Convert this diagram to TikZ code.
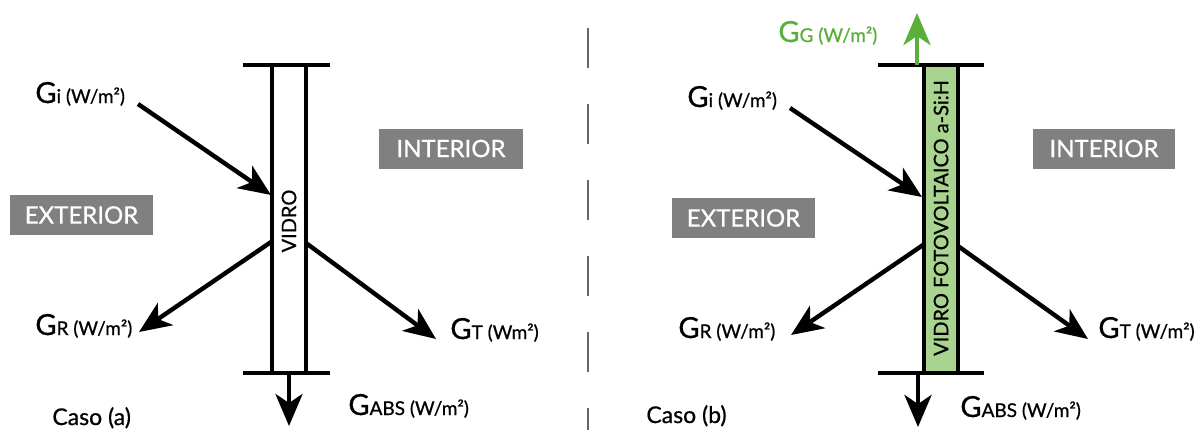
\documentclass[tikz,border=0pt]{standalone}
\usepackage{fontspec}
\setmainfont{Lato}[FakeBold=0.7]
\usetikzlibrary{arrows.meta}
\definecolor{boxgray}{HTML}{808080}
\definecolor{pvgreen}{HTML}{A9D48F}
\definecolor{ggreen}{HTML}{5AAE3A}
\definecolor{dashgray}{HTML}{666666}
\newcommand\glab[2]{{\fontsize{14.5}{15}\selectfont #1}{\fontsize{9.5}{10}\selectfont #2}}
\tikzset{
  arr/.style={line width=2.2pt,-{Stealth[length=16pt,width=13.5pt,inset=4.5pt]}},
  wall/.style={line width=2.1pt},
  zone/.style={fill=boxgray,text=white,minimum width=72pt,minimum height=20pt,inner sep=0pt,font=\fontsize{12}{12}\selectfont},
  lab/.style={anchor=base west,inner sep=0pt},
  caso/.style={anchor=base west,inner sep=0pt,font=\fontsize{11.5}{12}\selectfont},
  vtext/.style={rotate=90,inner sep=0pt,font=\fontsize{10}{10}\selectfont}
}
\begin{document}
\begin{tikzpicture}[x=0.5pt,y=-0.5pt]
\useasboundingbox (0,0) rectangle (1200,430);
% ---------- Caso (a)
\draw[wall] (243,65) -- (330,65);
\draw[wall] (243,373) -- (330,373);
\draw[wall] (272,65) -- (272,373);
\draw[wall] (306,65) -- (306,373);
\node[vtext] (vidroa) at (289,221) {VIDRO};
\coordinate (gia) at (138,104);
\coordinate (gie) at (271,195);
\coordinate (gra) at (271,242);
\coordinate (grt) at (139,332);
\coordinate (gta) at (306,243);
\coordinate (gtt) at (436,339);
\coordinate (gaa) at (289,373);
\coordinate (gat) at (289,426);
\draw[arr] (gia) -- (gie);
\draw[arr] (gra) -- (grt);
\draw[arr] (gta) -- (gtt);
\draw[arr] (gaa) -- (gat);
\node[lab] (lgia) at (35,103) {\glab{G}{i (W/m²)}};
\node[lab] (lgra) at (35,335) {\glab{G}{R (W/m²)}};
\node[lab] (lgta) at (450,339) {\glab{G}{T (Wm²)}};
\node[lab] (lgaa) at (348,415) {\glab{G}{ABS (W/m²)}};
\node[zone,minimum width=71.5pt] (exta) at (81.5,215) {EXTERIOR};
\node[zone] (inta) at (451,148.5) {INTERIOR};
\node[caso] (casoa) at (52,425) {Caso (a)};
% ---------- divider
\draw[dashgray,line width=1.3pt,dash pattern=on 20 off 18] (588,28) -- (588,430);
% ---------- Caso (b)
\fill[pvgreen] (924,65) rectangle (958,373);
\draw[wall] (878,65) -- (984,65);
\draw[wall] (878,373) -- (984,373);
\draw[wall] (924,65) -- (924,373);
\draw[wall] (958,65) -- (958,373);
\node[vtext] (vidrob) at (941,218) {VIDRO FOTOVOLTAICO a-Si:H};
\coordinate (gib) at (790,108);
\coordinate (gibe) at (922,197);
\coordinate (grb) at (923,245);
\coordinate (grbt) at (791,335);
\coordinate (gtb) at (958,246);
\coordinate (gtbt) at (1088,339);
\coordinate (gab) at (918,373);
\coordinate (gabt) at (918,427);
\coordinate (ggb) at (917,65);
\coordinate (ggbt) at (917,13);
\draw[arr] (gib) -- (gibe);
\draw[arr] (grb) -- (grbt);
\draw[arr] (gtb) -- (gtbt);
\draw[arr] (gab) -- (gabt);
\draw[arr,ggreen] (ggb) -- (ggbt);
\node[lab,text=ggreen] (lggb) at (778,42) {\glab{G}{G (W/m²)}};
\node[lab] (lgib) at (687,107) {\glab{G}{i (W/m²)}};
\node[lab] (lgrb) at (678,338) {\glab{G}{R (W/m²)}};
\node[lab] (lgtb) at (1098,338) {\glab{G}{T (W/m²)}};
\node[lab] (lgab) at (960,417) {\glab{G}{ABS (W/m²)}};
\node[zone,minimum width=71.5pt] (extb) at (743.5,218) {EXTERIOR};
\node[zone,minimum width=71pt] (intb) at (1104,148.5) {INTERIOR};
\node[caso] (casob) at (646,423) {Caso (b)};
\end{tikzpicture}
\end{document}
